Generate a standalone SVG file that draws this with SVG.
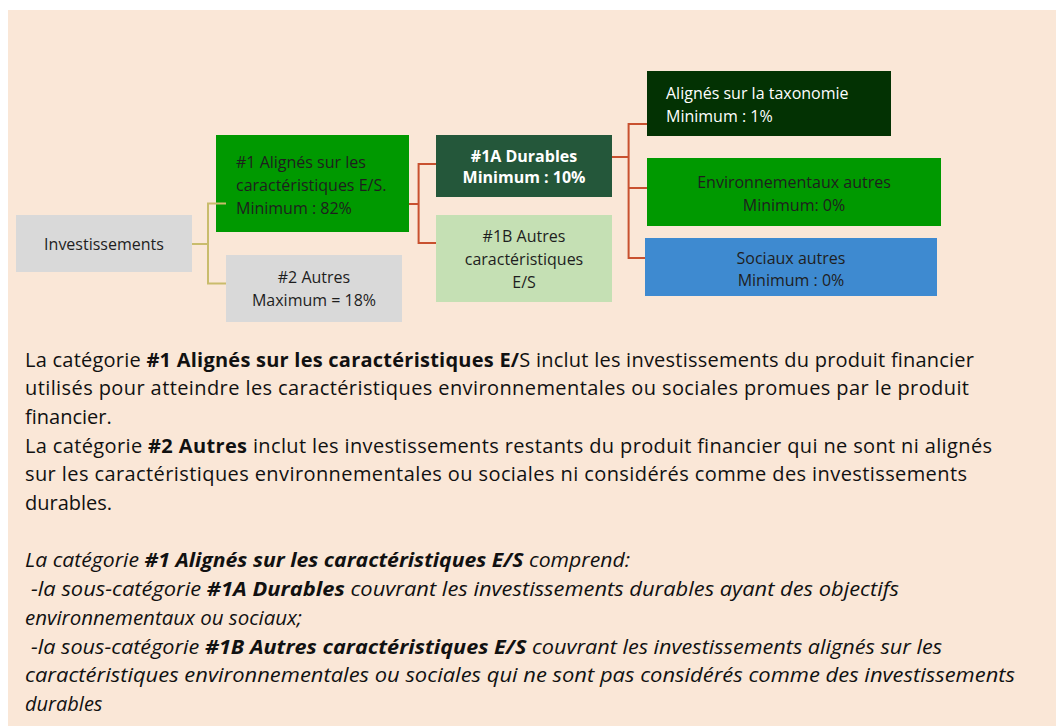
<svg xmlns="http://www.w3.org/2000/svg" width="1056" height="726" viewBox="0 0 1056 726">
<style>
.n{font-family:"Open Sans","Liberation Sans",sans-serif;font-size:16px;fill:#1e1e1e}
.c{text-anchor:middle}
.w{fill:#ffffff}
.b{font-weight:bold}
.body{font-family:"Open Sans","Liberation Sans",sans-serif;font-size:20px;fill:#111111}
.it{font-style:italic}
.ol{fill:none;stroke:#C9BC6C;stroke-width:2}
.rd{fill:none;stroke:#C8512F;stroke-width:2}
</style>
<rect x="0" y="0" width="1056" height="726" fill="#ffffff"/>
<rect x="8" y="10" width="1048" height="716" fill="#FAE7D7"/>

<g id="n-invest"><rect x="16" y="215" width="176" height="57" fill="#D9D9D9"/><text class="n c" x="104" y="250">Investissements</text></g>
<g id="n-1"><rect x="216" y="135" width="193" height="97" fill="#009900"/>
<text class="n" x="236" y="167.5">#1 Alignés sur les</text>
<text class="n" x="236" y="190.5">caractéristiques E/S.</text>
<text class="n" x="236" y="213.5">Minimum : 82%</text></g>
<g id="n-2"><rect x="226" y="255" width="176" height="67" fill="#D9D9D9"/>
<text class="n c" x="314" y="283.3">#2 Autres</text>
<text class="n c" x="314" y="306">Maximum = 18%</text></g>
<g id="n-1a"><rect x="436" y="135" width="176" height="62" fill="#24573A"/>
<text class="n c b w" x="524" y="161.7">#1A Durables</text>
<text class="n c b w" x="524" y="183.3">Minimum : 10%</text></g>
<g id="n-1b"><rect x="436" y="215" width="176" height="87" fill="#C5E0B4"/>
<text class="n c" x="524" y="241.7">#1B Autres</text>
<text class="n c" x="524" y="264.5">caractéristiques</text>
<text class="n c" x="524" y="287.7">E/S</text></g>
<g id="n-taxo"><rect x="647" y="71" width="244" height="65" fill="#033203"/>
<text class="n w" x="666" y="99">Alignés sur la taxonomie</text>
<text class="n w" x="666" y="122.3">Minimum : 1%</text></g>
<g id="n-env"><rect x="647" y="158" width="294" height="68" fill="#009900"/>
<text class="n c" x="794" y="188.3">Environnementaux autres</text>
<text class="n c" x="794" y="211">Minimum: 0%</text></g>
<g id="n-soc"><rect x="645" y="238" width="292" height="58" fill="#3E8AD0"/>
<text class="n c" x="791" y="264">Sociaux autres</text>
<text class="n c" x="791" y="286">Minimum : 0%</text></g>

<g id="connectors">
<path class="ol" d="M192,244 H208 M208,203.5 V283.5 M207,203.5 H226 M207,283.5 H226"/>
<path class="rd" d="M409,204 H418.6 M418.6,164 V243 M417.6,164 H436 M417.6,243 H436"/>
<path class="rd" d="M612,157 H628.6 M628.6,124 V258 M627.6,124 H647 M627.6,188 H647 M627.6,258 H645"/>
</g>

<g id="description">
<text class="body" x="25" y="366.5" textLength="949" lengthAdjust="spacing">La catégorie <tspan class="b">#1 Alignés sur les caractéristiques E/</tspan>S inclut les investissements du produit financier</text>
<text class="body" x="25" y="395.2" textLength="944" lengthAdjust="spacing">utilisés pour atteindre les caractéristiques environnementales ou sociales promues par le produit</text>
<text class="body" x="25" y="423.9">financier.</text>
<text class="body" x="25" y="452.6" textLength="967" lengthAdjust="spacing">La catégorie <tspan class="b">#2 Autres</tspan> inclut les investissements restants du produit financier qui ne sont ni alignés</text>
<text class="body" x="25" y="481.3" textLength="942" lengthAdjust="spacing">sur les caractéristiques environnementales ou sociales ni considérés comme des investissements</text>
<text class="body" x="25" y="510">durables.</text>
<text class="body it" x="25" y="567.4" textLength="605" lengthAdjust="spacingAndGlyphs">La catégorie <tspan class="b">#1 Alignés sur les caractéristiques E/S</tspan> comprend:</text>
<text class="body it" x="31" y="596.1" textLength="868" lengthAdjust="spacingAndGlyphs">-la sous-catégorie <tspan class="b">#1A Durables</tspan> couvrant les investissements durables ayant des objectifs</text>
<text class="body it" x="25" y="624.8" textLength="277" lengthAdjust="spacingAndGlyphs">environnementaux ou sociaux;</text>
<text class="body it" x="31" y="653.5" textLength="911" lengthAdjust="spacingAndGlyphs">-la sous-catégorie <tspan class="b">#1B Autres caractéristiques E/S</tspan> couvrant les investissements alignés sur les</text>
<text class="body it" x="25" y="682.2" textLength="990" lengthAdjust="spacingAndGlyphs">caractéristiques environnementales ou sociales qui ne sont pas considérés comme des investissements</text>
<text class="body it" x="25" y="710.9">durables</text>
</g>
</svg>
